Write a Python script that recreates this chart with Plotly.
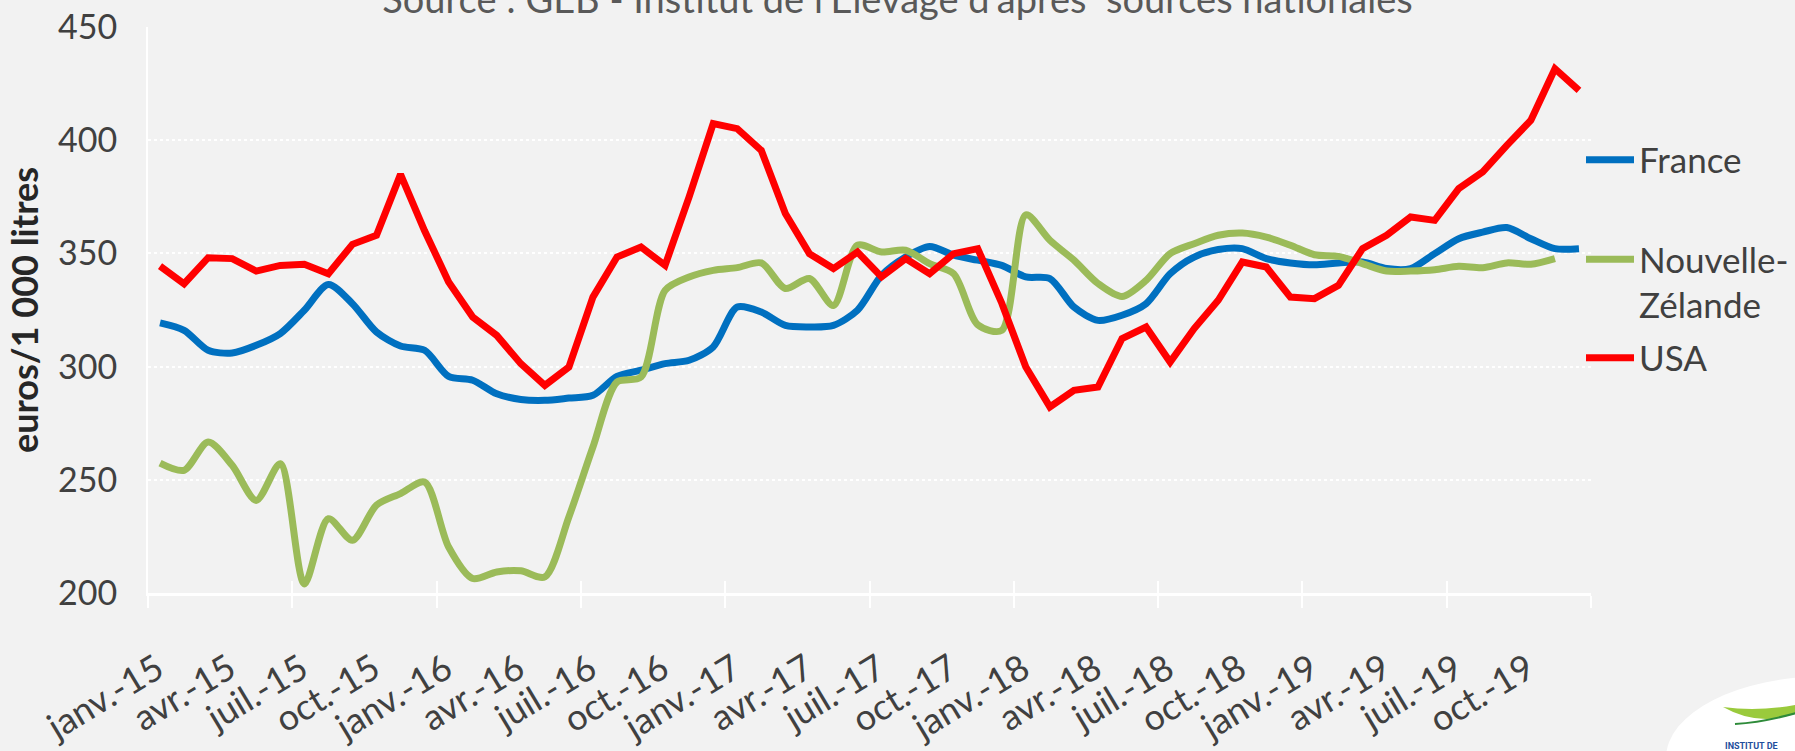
import plotly.graph_objects as go

# ---------------- data ----------------
months = ["janv.", "févr.", "mars", "avr.", "mai", "juin", "juil.", "août", "sept.", "oct.", "nov.", "déc."]
years = ["15", "16", "17", "18", "19"]
categories = [f"{m}-{y}" for y in years for m in months]

france = [319.3, 316.0, 307.2, 306.0, 309.4, 314.6, 324.9, 336.3, 327.8, 315.3, 309.1, 307.2,
          295.7, 294.0, 288.0, 285.5, 285.1, 286.1, 287.3, 295.7, 298.4, 301.3, 302.8, 308.7,
          326.3, 324.1, 318.2, 317.5, 318.2, 324.9, 340.3, 348.4, 353.1, 349.2, 347.0, 344.7,
          339.6, 338.9, 326.3, 320.4, 322.7, 327.8, 341.0, 348.4, 351.7, 352.1, 347.7, 345.8,
          345.0, 345.8, 346.2, 343.3, 343.3, 349.9, 356.5, 359.4, 361.4, 356.5, 352.1, 352.1]

nouvelle_zelande = [257.4, 254.2, 266.7, 256.4, 240.9, 257.1, 204.0, 232.8, 223.3, 238.8, 243.9, 249.0,
                    220.3, 206.4, 209.3, 209.8, 207.1, 233.6, 264.5, 293.2, 295.4, 333.7, 339.6, 342.5,
                    343.7, 345.8, 334.5, 338.9, 327.0, 353.6, 350.6, 351.4, 345.5, 341.0, 318.5, 316.0,
                    367.0, 355.8, 347.0, 336.7, 331.0, 338.1, 349.9, 354.3, 358.0, 359.0, 357.2, 353.6,
                    349.4, 348.7, 345.5, 342.2, 342.2, 342.8, 344.3, 343.7, 345.8, 345.2, 347.7]

usa = [344.4, 336.6, 348.1, 347.7, 342.2, 344.7, 345.2, 341.0, 354.0, 358.0, 384.9, 360.0,
       337.4, 321.9, 313.8, 301.3, 291.7, 299.8, 330.7, 348.4, 352.8, 344.7, 375.0, 407.3,
       405.1, 395.5, 367.6, 349.9, 343.3, 350.6, 339.6, 347.7, 341.0, 349.9, 352.1, 328.0,
       299.8, 282.2, 289.5, 291.0, 312.4, 317.5, 302.0, 316.8, 329.3, 346.2, 344.0, 330.7,
       330.0, 335.9, 352.1, 358.0, 366.1, 364.6, 378.6, 386.0, 397.7, 408.8, 431.6, 422.0]

label_step = 3
tick_labels = categories[::label_step]
y_ticks = [200, 250, 300, 350, 400, 450]

# ---------------- styling ----------------
FONT = "Lato, 'Open Sans', sans-serif"
TXT = "#404040"
BG = "#f2f2f2"

# plot-area geometry (pixels)
L, R, T, B = 148, 1591, 27, 593
W, H = 1795, 751


def px_x(px):
    return (px - L) / (R - L)


def px_y(py):
    return (B - py) / (B - T)


x_idx = list(range(len(categories)))

fig = go.Figure()
fig.add_trace(go.Scatter(
    x=x_idx, y=france, name="France", mode="lines",
    line=dict(color="#0070C0", width=7, shape="spline", smoothing=0.8),
    legend="legend"))
fig.add_trace(go.Scatter(
    x=x_idx[:len(nouvelle_zelande)], y=nouvelle_zelande, name="Nouvelle-<br>Zélande", mode="lines",
    line=dict(color="#9BBB59", width=7, shape="spline", smoothing=0.8),
    legend="legend2"))
fig.add_trace(go.Scatter(
    x=x_idx, y=usa, name="USA", mode="lines",
    line=dict(color="#FF0000", width=7),
    legend="legend3"))

# invisible trace for the overlay axis that draws the inner half of the tick marks
fig.add_trace(go.Scatter(x=[x_idx[0]], y=[france[0]], xaxis="x2", mode="lines",
                         showlegend=False, hoverinfo="skip", line=dict(width=0)))

boundaries = [i - 0.5 for i in range(0, len(categories) + 1, 6)]

legend_common = dict(
    xanchor="left", yanchor="middle",
    font=dict(family=FONT, size=35, color=TXT),
    bgcolor="rgba(0,0,0,0)", borderwidth=0, itemwidth=48,
    itemclick=False, itemdoubleclick=False,
)

fig.update_layout(
    width=W, height=H,
    paper_bgcolor=BG, plot_bgcolor=BG,
    margin=dict(l=L, r=W - R, t=T, b=H - B, autoexpand=False),
    font=dict(family=FONT, color=TXT),
    title=dict(
        text="Source : GEB - Institut de l'Elevage d'après  sources nationales",
        font=dict(family=FONT, size=38, color="#595959"),
        x=0.5, xref="container", xanchor="center",
        y=1.0, yref="container", yanchor="middle",
    ),
    xaxis=dict(
        range=[-0.5, len(categories) - 0.5],
        tickmode="array", tickvals=x_idx[::label_step], ticktext=tick_labels,
        tickangle=-31, tickfont=dict(family=FONT, size=36, color=TXT),
        ticks="", ticklabelstandoff=38, ticklabelshift=-3,
        showgrid=False, zeroline=False,
        showline=True, linecolor="white", linewidth=3,
        minor=dict(tickmode="array", tickvals=boundaries, ticks="outside",
                   ticklen=12, tickcolor="white", tickwidth=2, showgrid=False),
    ),
    xaxis2=dict(
        overlaying="x", matches="x", anchor="y", side="bottom",
        tickmode="array", tickvals=boundaries, ticks="inside", ticklen=12,
        tickcolor="white", tickwidth=2, showticklabels=False,
        showgrid=False, zeroline=False, showline=False,
    ),
    yaxis=dict(
        range=[200, 450], tickvals=y_ticks,
        tickfont=dict(family=FONT, size=34, color=TXT),
        ticks="", ticklabelstandoff=22,
        showgrid=True, gridcolor="white", gridwidth=2, griddash="dot",
        zeroline=False, showline=True, linecolor="white", linewidth=2,
        title=dict(text="<b>euros/1 000 litres</b>", standoff=8,
                   font=dict(family=FONT, size=36, color="#262626")),
    ),
    legend=dict(x=px_x(1581), y=px_y(160), **legend_common),
    legend2=dict(x=px_x(1581), y=px_y(282), valign="top", **legend_common),
    legend3=dict(x=px_x(1581), y=px_y(358), **legend_common),
    showlegend=True,
)

# logo decoration (bottom-right corner, partially cropped)
fig.add_shape(type="circle", xref="paper", yref="paper",
              x0=px_x(1666), x1=px_x(1990), y0=px_y(840), y1=px_y(676),
              fillcolor="white", line=dict(width=0), layer="above")
fig.add_shape(type="path", xref="paper", yref="paper",
              path=(f"M {px_x(1723)},{px_y(707)} "
                    f"Q {px_x(1760)},{px_y(728)} {px_x(1800)},{px_y(712)} "
                    f"L {px_x(1800)},{px_y(704)} "
                    f"Q {px_x(1760)},{px_y(712)} {px_x(1723)},{px_y(707)} Z"),
              fillcolor="#9ACA3C", line=dict(width=0), layer="above")
fig.add_shape(type="path", xref="paper", yref="paper",
              path=(f"M {px_x(1735)},{px_y(724)} "
                    f"Q {px_x(1765)},{px_y(722)} {px_x(1800)},{px_y(712)}"),
              line=dict(color="#2E8B3A", width=2), layer="above")
fig.add_annotation(text="<b>INSTITUT DE</b>", xref="paper", yref="paper",
                   x=px_x(1723), y=px_y(746), xanchor="left", yanchor="middle",
                   showarrow=False, font=dict(family="Roboto", size=9, color="#1F4E9C"))

fig.write_html("out.html", config={"displayModeBar": False},
               post_script="document.body.style.margin='0';")
